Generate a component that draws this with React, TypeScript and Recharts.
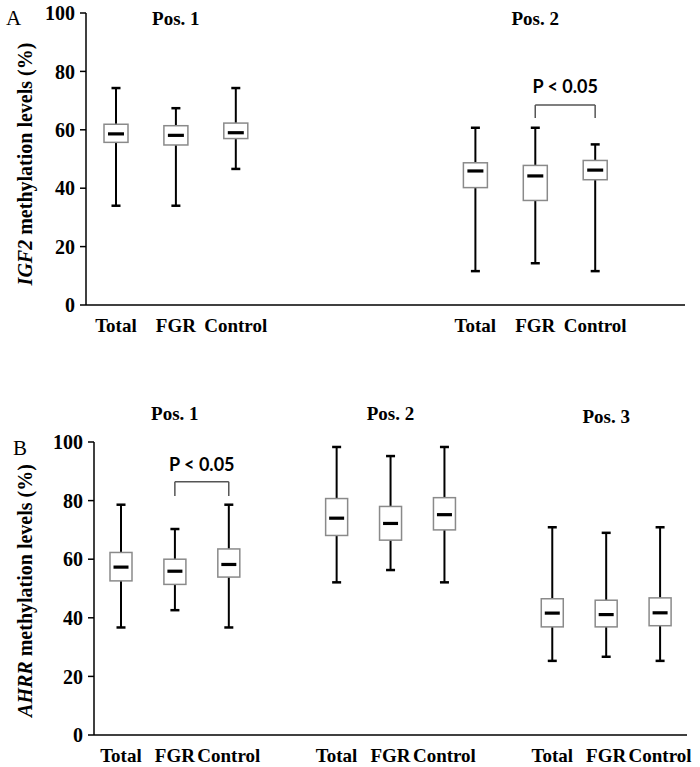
import React from 'react';
import { ComposedChart, Bar, XAxis, YAxis, ReferenceLine, ReferenceDot, Label } from 'recharts';

// Panel A: IGF2, two CpG positions (spacer slots keep the gap between groups)
const igf2Cats = ['Total', 'FGR', 'Control', '', '', '', 'Total', 'FGR', 'Control', ''];
const igf2Min = [34.0, 34.0, 46.6, null, null, null, 11.6, 14.3, 11.6, null];
const igf2Q1 = [55.7, 54.8, 57.0, null, null, null, 40.2, 35.8, 42.9, null];
const igf2Median = [58.6, 58.1, 59.0, null, null, null, 45.9, 44.2, 46.2, null];
const igf2Q3 = [61.9, 61.4, 62.3, null, null, null, 48.7, 47.8, 49.5, null];
const igf2Max = [74.3, 67.4, 74.3, null, null, null, 60.7, 60.7, 55.0, null];
const igf2Titles = [
  { slot: 1, text: 'Pos. 1', y: 96.0 },
  { slot: 7, text: 'Pos. 2', y: 96.0 },
];

// Panel B: AHRR, three CpG positions
const ahrrCats = ['Total', 'FGR', 'Control', '', 'Total', 'FGR', 'Control', '', 'Total', 'FGR', 'Control'];
const ahrrMin = [36.7, 42.6, 36.7, null, 52.1, 56.3, 52.1, null, 25.3, 26.7, 25.3];
const ahrrQ1 = [52.6, 51.4, 53.9, null, 68.1, 66.5, 70.0, null, 36.9, 36.9, 37.3];
const ahrrMedian = [57.3, 55.9, 58.2, null, 74.0, 72.2, 75.2, null, 41.6, 41.1, 41.7];
const ahrrQ3 = [62.3, 60.0, 63.5, null, 80.7, 78.0, 81.0, null, 46.5, 46.0, 46.8];
const ahrrMax = [78.6, 70.3, 78.6, null, 98.3, 95.2, 98.3, null, 70.9, 69.0, 70.9];
const ahrrTitles = [
  { slot: 1, text: 'Pos. 1', y: 107.6 },
  { slot: 5, text: 'Pos. 2', y: 107.6 },
  { slot: 9, text: 'Pos. 3', y: 106.6 },
];

const yTicks = [0, 20, 40, 60, 80, 100];

const SERIF = '"Liberation Serif", "Times New Roman", serif';
const SANS = 'Lato, "Liberation Sans", sans-serif';

const buildRows = (cats, mins, q1s, meds, q3s, maxs) =>
  cats.map((name, i) => ({
    slot: i,
    name,
    min: mins[i],
    q1: q1s[i],
    median: meds[i],
    q3: q3s[i],
    max: maxs[i],
    range: mins[i] == null ? null : [mins[i], maxs[i]],
  }));

const igf2Rows = buildRows(igf2Cats, igf2Min, igf2Q1, igf2Median, igf2Q3, igf2Max);
const ahrrRows = buildRows(ahrrCats, ahrrMin, ahrrQ1, ahrrMedian, ahrrQ3, ahrrMax);

// box drawn inside the [min, max] range bar, mapped linearly from its pixel extent
const makeBoxShape = (medianWidth: number) => (props: any) => {
  const { x, y, width, height, payload } = props;
  if (!payload || payload.min == null) return <g />;
  const { min, q1, median, q3, max } = payload;
  const py = (v: number) => y + (height * (max - v)) / (max - min);
  const cx = x + width / 2;
  const cap = 4.5;
  return (
    <g>
      <line x1={cx} x2={cx} y1={py(max)} y2={py(q3)} stroke="#000" strokeWidth={2} />
      <line x1={cx} x2={cx} y1={py(q1)} y2={py(min)} stroke="#000" strokeWidth={2} />
      <line x1={cx - cap} x2={cx + cap} y1={py(max)} y2={py(max)} stroke="#000" strokeWidth={2.5} />
      <line x1={cx - cap} x2={cx + cap} y1={py(min)} y2={py(min)} stroke="#000" strokeWidth={2.5} />
      <rect x={x} y={py(q3)} width={width} height={py(q1) - py(q3)} fill="#fff" stroke="#8a8a8a" strokeWidth={1.5} />
      <line
        x1={cx - medianWidth / 2}
        x2={cx + medianWidth / 2}
        y1={py(median)}
        y2={py(median)}
        stroke="#000"
        strokeWidth={3.2}
      />
    </g>
  );
};

const CatTick = ({ x, y, payload, cats }: any) => (
  <text x={x} y={y + 27} textAnchor="middle" fontFamily={SERIF} fontWeight="bold" fontSize={19} fill="#000">
    {cats[payload.value]}
  </text>
);

const YTitle = ({ viewBox, gene, letter, letterX, letterY, dy }: any) => {
  const cx = 25;
  const cy = viewBox.y + viewBox.height / 2 + dy;
  return (
    <g>
      <text x={letterX} y={letterY} fontFamily={SERIF} fontSize={21} fill="#000">
        {letter}
      </text>
      <text
        x={cx}
        y={cy}
        transform={`rotate(-90 ${cx} ${cy})`}
        textAnchor="middle"
        dominantBaseline="central"
        fontFamily={SERIF}
        fontWeight="bold"
        fontSize={20}
        fill="#000"
      >
        <tspan fontStyle="italic">{gene}</tspan> methylation levels (%)
      </text>
    </g>
  );
};

const TitleShape = (text: string) => (props: any) => (
  <text x={props.cx} y={props.cy} textAnchor="middle" fontFamily={SERIF} fontWeight="bold" fontSize={19} fill="#000">
    {text}
  </text>
);

const bracket = (left: number, right: number, top: number, bottom: number, offset: number, key: string) => [
  <ReferenceLine
    key={key + 'h'}
    segment={[{ x: left, y: top }, { x: right, y: top }]}
    stroke="#555"
    strokeWidth={1.5}
    ifOverflow="visible"
  >
    <Label
      value="P < 0.05"
      position="top"
      offset={offset}
      fontFamily={SANS}
      fontWeight="bold"
      fontSize={18}
      fill="#000"
    />
  </ReferenceLine>,
  <ReferenceLine key={key + 'l'} segment={[{ x: left, y: top }, { x: left, y: bottom }]} stroke="#555" strokeWidth={1.5} ifOverflow="visible" />,
  <ReferenceLine key={key + 'r'} segment={[{ x: right, y: top }, { x: right, y: bottom }]} stroke="#555" strokeWidth={1.5} ifOverflow="visible" />,
];

const Panel = ({ rows, cats, titles, width, height, margin, yWidth, xHeight, barSize, medianWidth, gene, letter, letterX, letterY, labelDy, sig }: any) => (
  <ComposedChart width={width} height={height} data={rows} margin={margin}>
    <XAxis
      dataKey="slot"
      type="category"
      height={xHeight}
      interval={0}
      tickLine={false}
      tickSize={0}
      tickMargin={0}
      axisLine={{ stroke: '#000', strokeWidth: 1.5 }}
      tick={<CatTick cats={cats} />}
    />
    <YAxis
      type="number"
      domain={[0, 100]}
      ticks={yTicks}
      interval={0}
      width={yWidth}
      tickSize={6}
      tickMargin={5}
      axisLine={{ stroke: '#000', strokeWidth: 1.5 }}
      tickLine={{ stroke: '#000', strokeWidth: 1.5 }}
      tick={{ fill: '#000', fontSize: 20, fontWeight: 'bold', fontFamily: SERIF }}
    >
      <Label
        content={(p: any) => (
          <YTitle {...p} gene={gene} letter={letter} letterX={letterX} letterY={letterY} dy={labelDy} />
        )}
      />
    </YAxis>
    <Bar dataKey="range" barSize={barSize} shape={makeBoxShape(medianWidth)} isAnimationActive={false} />
    {titles.map((t: any) => (
      <ReferenceDot key={t.text} x={t.slot} y={t.y} r={0} ifOverflow="visible" shape={TitleShape(t.text)} />
    ))}
    {bracket(sig.left, sig.right, sig.top, sig.bottom, sig.offset, 'sig')}
  </ComposedChart>
);

export default function App() {
  return (
    <div style={{ position: 'absolute', left: 0, top: 0, width: 700, height: 767, background: '#fff' }}>
      <div style={{ position: 'absolute', left: 0, top: 0 }}>
        <Panel
          rows={igf2Rows}
          cats={igf2Cats}
          titles={igf2Titles}
          width={700}
          height={345}
          margin={{ top: 13, right: 15, left: 0, bottom: 0 }}
          yWidth={86}
          xHeight={40}
          barSize={24}
          medianWidth={16}
          gene="IGF2"
          letter="A"
          letterX={6}
          letterY={25}
          labelDy={5}
          sig={{ left: 7, right: 8, top: 68.5, bottom: 64, offset: 12 }}
        />
      </div>
      <div style={{ position: 'absolute', left: 0, top: 380 }}>
        <Panel
          rows={ahrrRows}
          cats={ahrrCats}
          titles={ahrrTitles}
          width={700}
          height={387}
          margin={{ top: 62, right: 13, left: 0, bottom: 0 }}
          yWidth={94}
          xHeight={32}
          barSize={22}
          medianWidth={15}
          gene="AHRR"
          letter="B"
          letterX={13}
          letterY={75}
          labelDy={2}
          sig={{ left: 1, right: 2, top: 86.4, bottom: 81.6, offset: 11 }}
        />
      </div>
    </div>
  );
}
